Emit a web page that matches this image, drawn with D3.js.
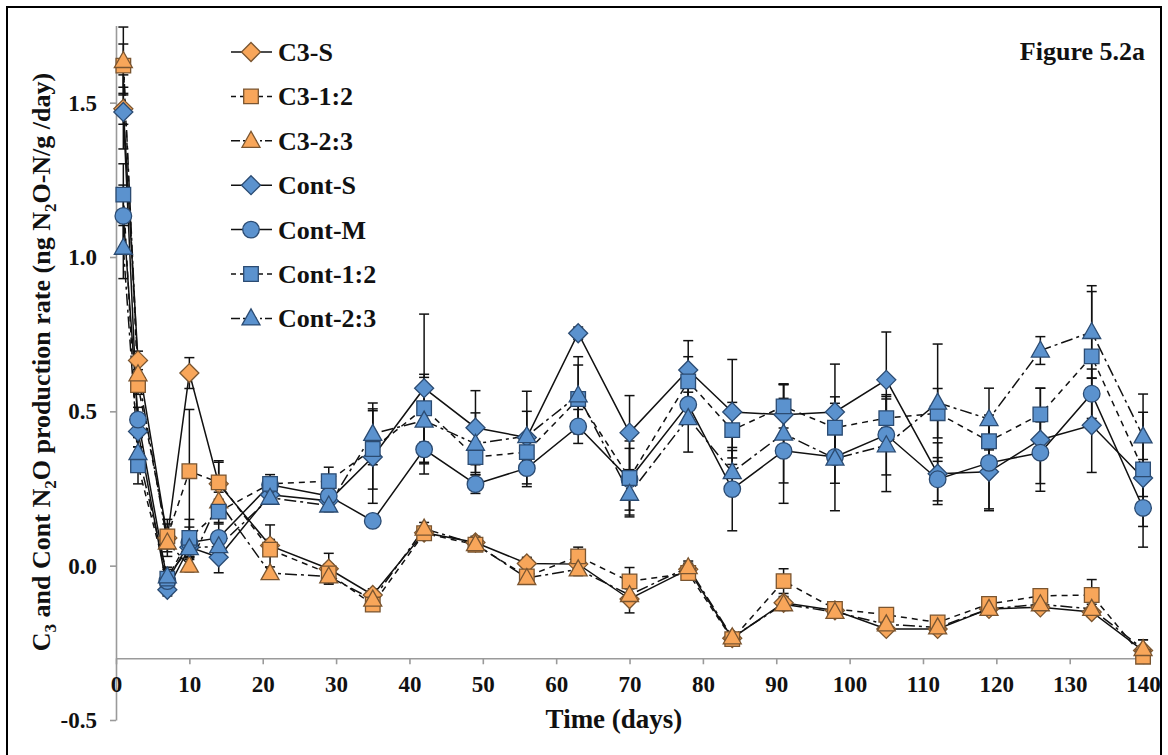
<!DOCTYPE html>
<html><head><meta charset="utf-8">
<script src="https://cdn.jsdelivr.net/npm/d3@7/dist/d3.min.js"></script>
<style>body{margin:0;background:#fff}svg{display:block}</style>
</head><body>
<svg id="chart" width="1168" height="755"></svg>
<script>
const days = [1,3,7,10,14,21,29,35,42,49,56,63,70,78,84,91,98,105,112,119,126,133,140];
const seriesNames = ["C3-S","C3-1:2","C3-2:3","Cont-S","Cont-M","Cont-1:2","Cont-2:3"];
const c3S    = [1.48,0.665,0.09,0.624,0.265,0.065,-0.01,-0.095,0.107,0.075,0.007,0.005,-0.108,-0.012,-0.235,-0.12,-0.145,-0.205,-0.205,-0.14,-0.135,-0.15,-0.275];
const c3_12  = [1.62,0.585,0.095,0.306,0.27,0.052,-0.025,-0.126,0.105,0.068,-0.035,0.03,-0.051,-0.024,-0.238,-0.05,-0.14,-0.159,-0.184,-0.124,-0.098,-0.095,-0.295];
const c3_23  = [1.635,0.62,0.075,0.0,0.208,-0.024,-0.035,-0.11,0.12,0.07,-0.04,-0.012,-0.095,-0.005,-0.232,-0.125,-0.15,-0.19,-0.2,-0.14,-0.125,-0.14,-0.27];
const contS  = [1.47,0.435,-0.078,0.06,0.027,0.23,0.21,0.352,0.575,0.447,0.415,0.753,0.431,0.634,0.498,0.489,0.498,0.602,0.298,0.304,0.408,0.455,0.284];
const contM  = [1.133,0.473,-0.05,0.075,0.09,0.262,0.226,0.145,0.377,0.264,0.316,0.451,0.28,0.522,0.248,0.372,0.352,0.424,0.28,0.333,0.366,0.557,0.187];
const cont12 = [1.202,0.325,-0.042,0.09,0.175,0.265,0.274,0.378,0.51,0.352,0.368,0.54,0.284,0.597,0.439,0.516,0.447,0.478,0.494,0.403,0.49,0.678,0.312];
const cont23 = [1.03,0.365,-0.035,0.057,0.063,0.22,0.195,0.427,0.47,0.395,0.42,0.552,0.233,0.478,0.303,0.428,0.347,0.39,0.528,0.475,0.697,0.757,0.419];
const errC3S   = [0.05,0.03,0.06,0.05,0.07,0.02,0.05,0.02,0.02,0.02,0.02,0.02,0.045,0.02,0.015,0.02,0.015,0.01,0.015,0.01,0.01,0.015,0.035];
const errC3_12 = [0.07,0.03,0.04,0.2,0.07,0.08,0.03,0.02,0.02,0.02,0.02,0.03,0.045,0.02,0.015,0.04,0.015,0.015,0.015,0.01,0.01,0.05,0.02];
const errC3_23 = [0.11,0.05,0.03,0.02,0.03,0.02,0.02,0.02,0.02,0.02,0.02,0.02,0.02,0.02,0.015,0.02,0.015,0.015,0.015,0.01,0.01,0.015,0.03];
const errContS = [0.12,0.05,0.02,0.03,0.05,0.03,0.03,0.15,0.24,0.12,0.15,0.02,0.12,0.095,0.17,0.1,0.155,0.155,0.1,0.12,0.167,0.153,0.06];
const errContM = [0.1,0.04,0.02,0.05,0.05,0.02,0.03,0.01,0.08,0.03,0.06,0.055,0.1,0.04,0.135,0.17,0.174,0.13,0.07,0.155,0.1,0.08,0.127];
const errCont12= [0.1,0.06,0.03,0.06,0.04,0.03,0.045,0.13,0.11,0.05,0.05,0.11,0.12,0.08,0.09,0.07,0.1,0.07,0.08,0.07,0.085,0.21,0.185];
const errCont23= [0.1,0.05,0.03,0.03,0.04,0.02,0.02,0.1,0.14,0.1,0.08,0.125,0.075,0.11,0.07,0.16,0.08,0.15,0.19,0.1,0.045,0.15,0.137];
const yTickValues = [-0.5,0,0.5,1.0,1.5];
const yTickLabels = ["-0.5","0.0","0.5","1.0","1.5"];
const xTickValues = [0,10,20,30,40,50,60,70,80,90,100,110,120,130,140];

const ORANGE = "#F8A65A", ORANGE_S = "#7a5530", BLUE = "#5B92CE", BLUE_S = "#2b4b72";
const FONT = "'Liberation Serif','Times New Roman',serif";

const series = [
  {name:seriesNames[0], vals:c3S,   err:errC3S,   shape:"diamond",  fill:ORANGE, stroke:ORANGE_S, dash:null},
  {name:seriesNames[1], vals:c3_12, err:errC3_12, shape:"square",   fill:ORANGE, stroke:ORANGE_S, dash:"6,5"},
  {name:seriesNames[2], vals:c3_23, err:errC3_23, shape:"triangle", fill:ORANGE, stroke:ORANGE_S, dash:"12,4,3,4"},
  {name:seriesNames[3], vals:contS, err:errContS, shape:"diamond",  fill:BLUE,   stroke:BLUE_S,   dash:null},
  {name:seriesNames[4], vals:contM, err:errContM, shape:"circle",   fill:BLUE,   stroke:BLUE_S,   dash:null},
  {name:seriesNames[5], vals:cont12,err:errCont12,shape:"square",   fill:BLUE,   stroke:BLUE_S,   dash:"6,5"},
  {name:seriesNames[6], vals:cont23,err:errCont23,shape:"triangle", fill:BLUE,   stroke:BLUE_S,   dash:"12,4,3,4"}
];

const svg = d3.select("#chart");
svg.append("rect").attr("x",7).attr("y",7).attr("width",1154).attr("height",760)
  .attr("fill","#fff").attr("stroke","#000").attr("stroke-width",2);

const x = d3.scaleLinear().domain([0,141]).range([116,1150.4]);
const y = d3.scaleLinear().domain([-0.5,1.75]).range([720,25.5]);
const xAxisY = y(-0.3);

// Y axis
const yAxis = d3.axisLeft(y).tickValues(yTickValues).tickSize(6).tickSizeOuter(0)
  .tickFormat((d,i)=>yTickLabels[i]);
const gy = svg.append("g").attr("transform","translate(116,0)").call(yAxis);
gy.select(".domain").attr("stroke","#9a9a9a").attr("stroke-width",1.6);
gy.selectAll(".tick line").attr("stroke","#9a9a9a").attr("stroke-width",1.6);
gy.selectAll(".tick text").attr("font-family",FONT).attr("font-weight","bold")
  .attr("font-size",23).attr("fill","#111").attr("x",-19);

// X axis
const xAxis = d3.axisBottom(x).tickValues(xTickValues).tickSize(6).tickSizeOuter(0).tickFormat(d3.format("d"));
const gx = svg.append("g").attr("transform",`translate(0,${xAxisY})`).call(xAxis);
gx.select(".domain").attr("stroke","#9a9a9a").attr("stroke-width",1.6);
gx.selectAll(".tick line").attr("stroke","#9a9a9a").attr("stroke-width",1.6);
gx.selectAll(".tick text").attr("font-family",FONT).attr("font-weight","bold")
  .attr("font-size",23).attr("fill","#111").attr("y",17);

function markerPath(shape, s){
  if(shape==="diamond"){const h=9.5*s;return `M0,${-h}L${h},0L0,${h}L${-h},0Z`;}
  if(shape==="square"){const h=7.3*s;return `M${-h},${-h}H${h}V${h}H${-h}Z`;}
  if(shape==="triangle"){const w=9*s,t=9.5*s,b=6.5*s;return `M0,${-t}L${w},${b}L${-w},${b}Z`;}
  const r=8.3*s;return `M${r},0A${r},${r} 0 1,1 ${-r},0A${r},${r} 0 1,1 ${r},0Z`;
}

const plot = svg.append("g");
const line = d3.line().x((d,i)=>x(days[i])).y(d=>y(d));
series.forEach(s=>{
  plot.append("path").datum(s.vals).attr("d",line).attr("fill","none")
    .attr("stroke","#111").attr("stroke-width",1.5)
    .attr("stroke-dasharray",s.dash);
});
series.forEach(s=>{
  const g = plot.append("g");
  s.vals.forEach((v,i)=>{
    const e = s.err[i], cx = x(days[i]);
    g.append("line").attr("x1",cx).attr("x2",cx).attr("y1",y(v+e)).attr("y2",y(v-e))
      .attr("stroke","#111").attr("stroke-width",1.5);
    [v+e,v-e].forEach(t=>g.append("line").attr("x1",cx-5).attr("x2",cx+5).attr("y1",y(t)).attr("y2",y(t))
      .attr("stroke","#111").attr("stroke-width",1.5));
  });
});
series.forEach(s=>{
  plot.append("g").selectAll("path").data(s.vals).join("path")
    .attr("transform",(d,i)=>`translate(${x(days[i])},${y(d)})`)
    .attr("d",markerPath(s.shape,1)).attr("fill",s.fill)
    .attr("stroke",s.stroke).attr("stroke-width",1.3);
});

// Legend
const leg = svg.append("g");
series.forEach((s,i)=>{
  const ly = 52 + i*44.4;
  leg.append("line").attr("x1",231).attr("x2",272).attr("y1",ly).attr("y2",ly)
    .attr("stroke","#111").attr("stroke-width",1.5).attr("stroke-dasharray",s.dash ? (s.dash==="6,5"?"5,4":"9,3,2,3") : null);
  leg.append("path").attr("transform",`translate(251,${ly})`).attr("d",markerPath(s.shape,1))
    .attr("fill",s.fill).attr("stroke",s.stroke).attr("stroke-width",1.3);
  leg.append("text").attr("x",278).attr("y",ly+9).text(s.name)
    .attr("font-family",FONT).attr("font-weight","bold").attr("font-size",26).attr("fill","#111");
});

// Titles
svg.append("text").attr("x",1145).attr("y",60).attr("text-anchor","end").text("Figure 5.2a")
  .attr("font-family",FONT).attr("font-weight","bold").attr("font-size",26).attr("fill","#111");
svg.append("text").attr("x",614).attr("y",728).attr("text-anchor","middle").text("Time (days)")
  .attr("font-family",FONT).attr("font-weight","bold").attr("font-size",27).attr("fill","#111");

const yt = svg.append("text").attr("transform","translate(50,362) rotate(-90)").attr("text-anchor","middle")
  .attr("font-family",FONT).attr("font-weight","bold").attr("font-size",26).attr("fill","#111");
yt.append("tspan").text("C");
yt.append("tspan").attr("dy",6).attr("font-size",17).text("3");
yt.append("tspan").attr("dy",-6).text(" and Cont N");
yt.append("tspan").attr("dy",6).attr("font-size",17).text("2");
yt.append("tspan").attr("dy",-6).text("O production rate (ng N");
yt.append("tspan").attr("dy",6).attr("font-size",17).text("2");
yt.append("tspan").attr("dy",-6).text("O-N/g /day)");
</script>
</body></html>
